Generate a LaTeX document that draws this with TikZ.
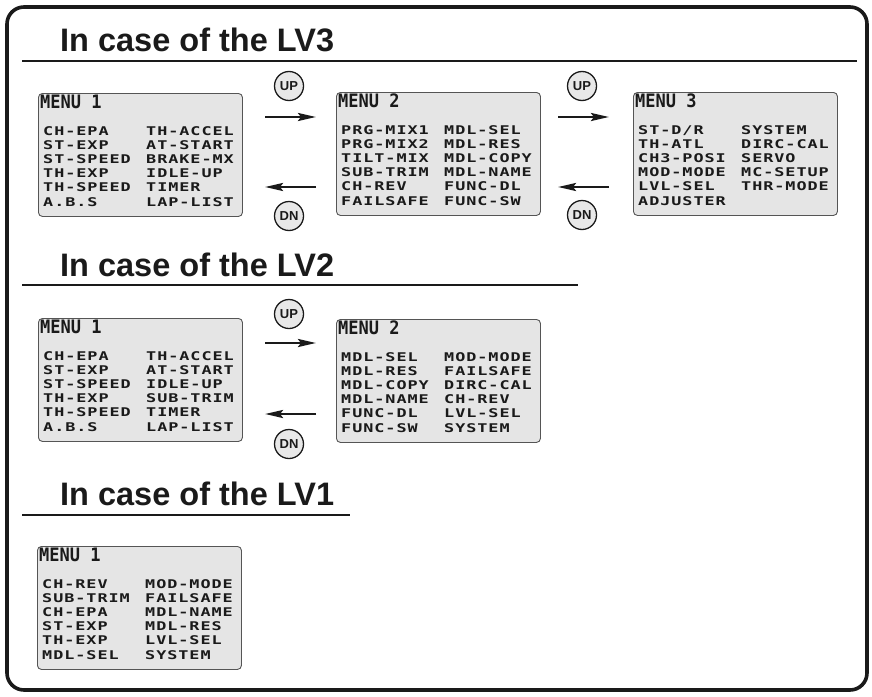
\documentclass[tikz,border=0pt]{standalone}
\usepackage{fontspec}
\setmainfont{Liberation Sans}
\newfontfamily\lcdrowfont{DejaVu Sans Mono Bold}[FakeStretch=1.4,LetterSpace=8]
\newfontfamily\lcdtitlefont{DejaVu Sans Mono Bold}[FakeStretch=0.92]
\usetikzlibrary{arrows.meta}

\definecolor{lcdfill}{HTML}{E5E5E5}
\definecolor{lcdedge}{HTML}{555555}
\definecolor{btnfill}{HTML}{E8E8E8}
\definecolor{ink}{HTML}{1A1A1A}

\tikzset{
  frame/.style={line width=3.6pt, rounded corners=17pt, draw=ink},
  headtext/.style={anchor=base west, inner sep=0pt, text=ink,
    font=\bfseries\fontsize{32.5}{32.5}\selectfont},
  headrule/.style={line width=2pt, draw=ink},
  menubox/.style={anchor=north west, rectangle, rounded corners=4pt,
    draw=lcdedge, line width=0.9pt, fill=lcdfill, inner sep=0pt,
    minimum width=204pt, minimum height=123pt},
  lcdtitle/.style={anchor=base west, inner sep=0pt, text=ink,
    font=\lcdtitlefont\fontsize{18.5}{18.5}\selectfont},
  lcdrow/.style={anchor=base west, inner sep=0pt, text=ink,
    font=\lcdrowfont\fontsize{12}{12}\selectfont},
  btn/.style={circle, draw=ink, line width=1.3pt, fill=btnfill,
    minimum size=29pt, inner sep=0pt, text=ink,
    font=\bfseries\fontsize{13}{13}\selectfont},
  navarrow/.style={line width=2.6pt, draw=ink,
    -{Stealth[length=18pt, width=8pt, inset=3pt]}},
}

% #1 name, #2 x, #3 y (top left), #4 title, #5 left column, #6 right column
\newcommand\lcdmenu[6]{%
  \node[menubox] (#1) at (#2,#3) {};
  \node[lcdtitle] (#1-t) at ([xshift=2pt, yshift=-15pt]#1.north west) {#4};
  \foreach \t [count=\i] in {#5}
    \node[lcdrow] (#1-l\i) at ([xshift=5pt, yshift={-(42.5+(\i-1)*14.1)*1pt}]#1.north west) {\t};
  \foreach \t [count=\i] in {#6}
    \node[lcdrow] (#1-r\i) at ([xshift=108pt, yshift={-(42.5+(\i-1)*14.1)*1pt}]#1.north west) {\t};
}

\begin{document}
\begin{tikzpicture}[x=1pt, y=-1pt]
  \useasboundingbox (0,0) rectangle (872,696);
  \draw[frame] (7,7) rectangle (867,690);

  % ---- LV3 ----
  \node[headtext] (h3) at (60,51) {In case of the LV3};
  \draw[headrule] (22,61) -- (857,61);

  \lcdmenu{a1}{38}{93}{MENU 1}
    {CH-EPA,ST-EXP,ST-SPEED,TH-EXP,TH-SPEED,A.B.S}
    {TH-ACCEL,AT-START,BRAKE-MX,IDLE-UP,TIMER,LAP-LIST}
  \lcdmenu{a2}{336}{92}{MENU 2}
    {PRG-MIX1,PRG-MIX2,TILT-MIX,SUB-TRIM,CH-REV,FAILSAFE}
    {MDL-SEL,MDL-RES,MDL-COPY,MDL-NAME,FUNC-DL,FUNC-SW}
  \lcdmenu{a3}{633}{92}{MENU 3}
    {ST-D/R,TH-ATL,CH3-POSI,MOD-MODE,LVL-SEL,ADJUSTER}
    {SYSTEM,DIRC-CAL,SERVO,MC-SETUP,THR-MODE}

  \node[btn] (a1up) at (289,86) {UP};
  \node[btn] (a1dn) at (289,216) {DN};
  \node[btn] (a2up) at (582,86) {UP};
  \node[btn] (a2dn) at (582,215) {DN};
  \coordinate (a12s) at (265,117); \coordinate (a12e) at (316,117);
  \coordinate (a21s) at (316,187); \coordinate (a21e) at (265,187);
  \coordinate (a23s) at (558,117); \coordinate (a23e) at (609,117);
  \coordinate (a32s) at (609,187); \coordinate (a32e) at (558,187);
  \draw[navarrow] (a12s) -- (a12e);
  \draw[navarrow] (a21s) -- (a21e);
  \draw[navarrow] (a23s) -- (a23e);
  \draw[navarrow] (a32s) -- (a32e);

  % ---- LV2 ----
  \node[headtext] (h2) at (60,276) {In case of the LV2};
  \draw[headrule] (22,285) -- (578,285);

  \lcdmenu{b1}{38}{318}{MENU 1}
    {CH-EPA,ST-EXP,ST-SPEED,TH-EXP,TH-SPEED,A.B.S}
    {TH-ACCEL,AT-START,IDLE-UP,SUB-TRIM,TIMER,LAP-LIST}
  \lcdmenu{b2}{336}{319}{MENU 2}
    {MDL-SEL,MDL-RES,MDL-COPY,MDL-NAME,FUNC-DL,FUNC-SW}
    {MOD-MODE,FAILSAFE,DIRC-CAL,CH-REV,LVL-SEL,SYSTEM}

  \node[btn] (b1up) at (289,314) {UP};
  \node[btn] (b1dn) at (289,444) {DN};
  \coordinate (b12s) at (265,343); \coordinate (b12e) at (316,343);
  \coordinate (b21s) at (316,414); \coordinate (b21e) at (265,414);
  \draw[navarrow] (b12s) -- (b12e);
  \draw[navarrow] (b21s) -- (b21e);

  % ---- LV1 ----
  \node[headtext] (h1) at (60,505) {In case of the LV1};
  \draw[headrule] (22,515) -- (350,515);

  \lcdmenu{c1}{37}{546}{MENU 1}
    {CH-REV,SUB-TRIM,CH-EPA,ST-EXP,TH-EXP,MDL-SEL}
    {MOD-MODE,FAILSAFE,MDL-NAME,MDL-RES,LVL-SEL,SYSTEM}
\end{tikzpicture}
\end{document}
